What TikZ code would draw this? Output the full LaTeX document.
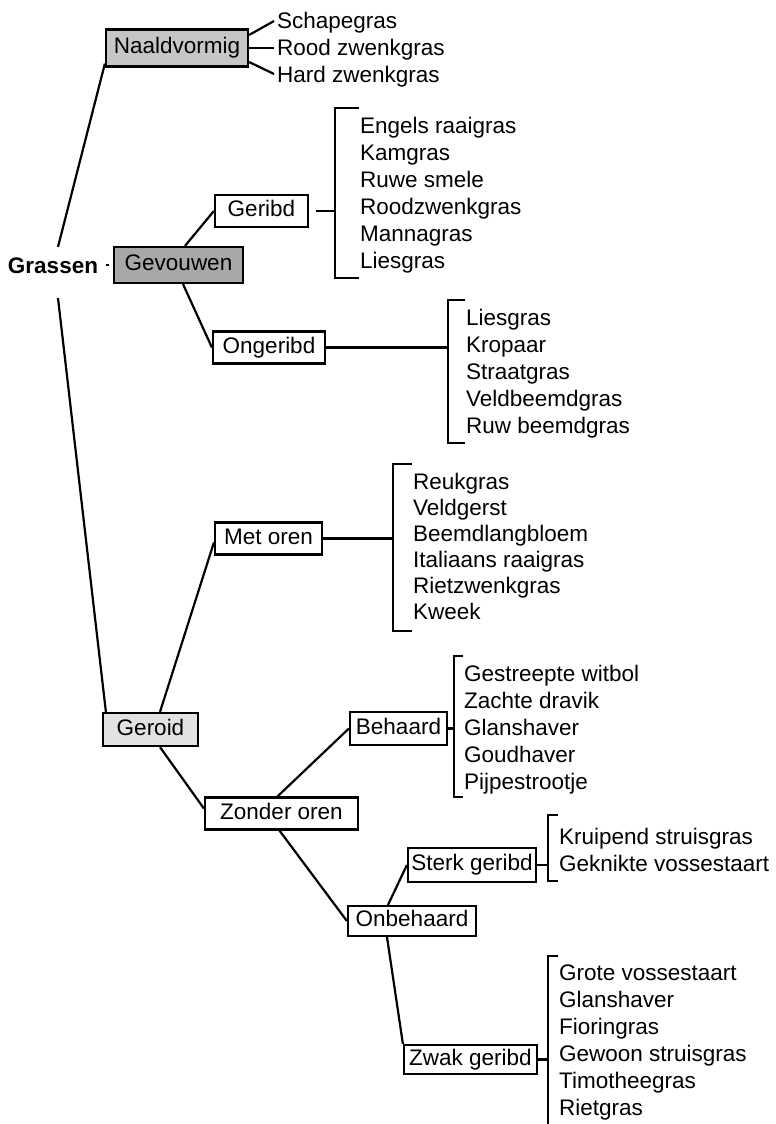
\documentclass[tikz,border=0pt]{standalone}
\usepackage{fontspec}
\setmainfont{Liberation Sans}
\usepackage{tikz}
\usepackage{xcolor}
\definecolor{naaldgrijs}{RGB}{198,198,198}
\definecolor{gevouwengrijs}{RGB}{168,168,168}
\definecolor{geroidgrijs}{RGB}{226,226,226}
\begin{document}
\begin{tikzpicture}[x=1pt, y=-1pt, line width=2.2pt,
    tekst/.style={font=\fontsize{22.5}{27}\selectfont},
    vak/.style={draw, tekst, inner sep=0pt, minimum height=32pt, text height=16pt, text depth=5pt},
    soort/.style={tekst, anchor=west, inner sep=2pt, text height=16pt, text depth=0pt},
    lijst/.style={tekst, anchor=north west, inner sep=0pt, align=left,
        execute at begin node=\strut, execute at end node=\strut}]
    \useasboundingbox (0,0) rectangle (776,1124);

    % hoofdgroepen
    \node[tekst, inner sep=3pt, text height=16pt, text depth=0pt] (grassen) at (53,265) {\textbf{Grassen}};
    \node[vak, fill=naaldgrijs, minimum width=142pt, minimum height=37pt] (naaldvormig) at (177,48) {Naaldvormig};
    \node[vak, fill=gevouwengrijs, minimum width=129pt, minimum height=36pt] (gevouwen) at (178.5,265) {Gevouwen};
    \node[vak, fill=geroidgrijs, minimum width=95pt, minimum height=33pt] (geroid) at (150.5,729.5) {Geroid};

    % tussengroepen
    \node[vak, minimum width=93pt] (geribd) at (261.5,211) {Geribd};
    \node[vak, minimum width=112pt] (ongeribd) at (269,347.5) {Ongeribd};
    \node[vak, minimum width=107pt] (metoren) at (268.5,538.5) {Met oren};
    \node[vak, minimum width=153pt] (zonderoren) at (281.5,813.5) {Zonder oren};
    \node[vak, minimum width=97pt, minimum height=33pt] (behaard) at (398.5,728.5) {Behaard};
    \node[vak, minimum width=128pt, minimum height=30pt] (onbehaard) at (412,921) {Onbehaard};
    \node[vak, minimum width=128pt, minimum height=34pt] (sterkgeribd) at (472,865) {Sterk geribd};
    \node[vak, minimum width=133pt, minimum height=29pt] (zwakgeribd) at (470.5,1059.5) {Zwak geribd};

    % soorten
    \node[soort] (schapegras) at (274,21) {Schapegras};
    \node[soort] (roodzwenkgras) at (274,48) {Rood zwenkgras};
    \node[soort] (hardzwenkgras) at (274,74) {Hard zwenkgras};
    \node[lijst] (geribdlijst) at (359,116) {Engels raaigras\\Kamgras\\Ruwe smele\\Roodzwenkgras\\Mannagras\\Liesgras};
    \node[lijst] (ongeribdlijst) at (465,308) {Liesgras\\Kropaar\\Straatgras\\Veldbeemdgras\\Ruw beemdgras};
    \node[lijst, font=\fontsize{22.5}{26}\selectfont] (metorenlijst) at (412,472) {Reukgras\\Veldgerst\\Beemdlangbloem\\Italiaans raaigras\\Rietzwenkgras\\Kweek};
    \node[lijst] (behaardlijst) at (463,664) {Gestreepte witbol\\Zachte dravik\\Glanshaver\\Goudhaver\\Pijpestrootje};
    \node[lijst] (sterklijst) at (558,827) {Kruipend struisgras\\Geknikte vossestaart};
    \node[lijst] (zwaklijst) at (558,964) {Grote vossestaart\\Glanshaver\\Fioringras\\Gewoon struisgras\\Timotheegras\\Rietgras};

    % haken
    \coordinate (geribdhaak) at ([xshift=-24pt]geribdlijst.west);
    \coordinate (ongeribdhaak) at ([xshift=-17pt]ongeribdlijst.west);
    \coordinate (metorenhaak) at ([xshift=-19pt]metorenlijst.west);
    \coordinate (behaardhaak) at ([xshift=-9pt]behaardlijst.west);
    \coordinate (sterkhaak) at ([xshift=-10pt]sterklijst.west);
    \coordinate (zwakhaak) at ([xshift=-10pt]zwaklijst.west);
    \draw ([yshift=8pt]geribdlijst.north west) -| (geribdhaak) |- (geribdlijst.south west);
    \draw ([yshift=8pt]ongeribdlijst.north west) -| (ongeribdhaak) |- (ongeribdlijst.south west);
    \draw ([yshift=8pt]metorenlijst.north west) -| (metorenhaak) |- ([yshift=-3pt]metorenlijst.south west);
    \draw ([yshift=8pt]behaardlijst.north west) -| (behaardhaak) |- ([yshift=2pt]behaardlijst.south west);
    \draw ([yshift=12pt]sterklijst.north west) -| (sterkhaak) |- (sterklijst.south west);
    \draw ([yshift=8pt]zwaklijst.north west) -| (zwakhaak) |- (zwaklijst.south west);

    % verbindingen
    \draw[shorten <=4pt, shorten >=4pt] (grassen.east) -- (gevouwen.west);
    \draw ([xshift=5pt, yshift=6pt]grassen.north) -- ([yshift=4pt]naaldvormig.south west);
    \draw ([xshift=5pt, yshift=-21pt]grassen.south) -- ([xshift=4pt]geroid.north west);
    \draw ([yshift=13pt]naaldvormig.east) -- (schapegras.west);
    \draw (naaldvormig.east) -- (roodzwenkgras.west);
    \draw ([yshift=-14pt]naaldvormig.east) -- (hardzwenkgras.west);
    \draw ([xshift=6.5pt]gevouwen.north) -- (geribd.west);
    \draw ([xshift=4.5pt]gevouwen.south) -- (ongeribd.west);
    \draw[shorten <=7pt] (geribd.east) -- (geribd.east -| geribdhaak);
    \draw (ongeribd.east) -- (ongeribd.east -| ongeribdhaak);
    \draw ([xshift=9.5pt]geroid.north) -- ([yshift=-4pt]metoren.west);
    \draw (metoren.east) -- (metoren.east -| metorenhaak);
    \draw ([xshift=9.5pt]geroid.south) -- ([yshift=5pt]zonderoren.west);
    \draw ([xshift=-4pt]zonderoren.north) -- (behaard.west);
    \draw (behaard.east) -- (behaard.east -| behaardhaak);
    \draw ([xshift=-2pt]zonderoren.south) -- (onbehaard.west);
    \draw ([xshift=-24pt]onbehaard.north) -- (sterkgeribd.west);
    \draw (sterkgeribd.east) -- (sterkgeribd.east -| sterkhaak);
    \draw ([xshift=-25pt]onbehaard.south) -- (zwakgeribd.north west);
    \draw (zwakgeribd.east) -- (zwakgeribd.east -| zwakhaak);
\end{tikzpicture}
\end{document}
